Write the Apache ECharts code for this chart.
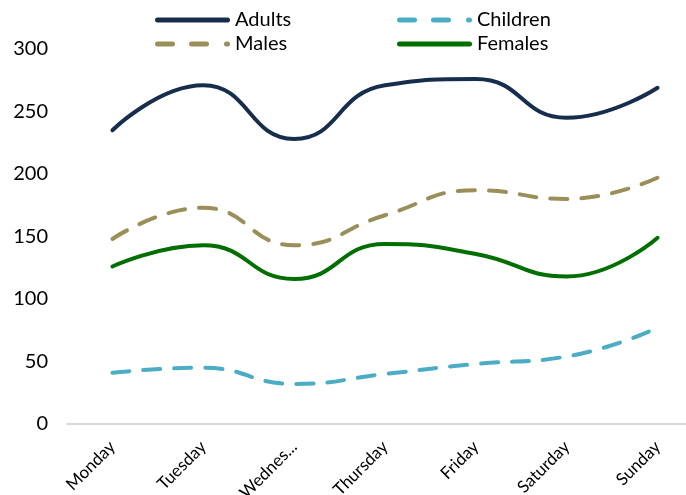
<!DOCTYPE html>
<html>
<head>
<meta charset="utf-8">
<script src="https://cdn.jsdelivr.net/npm/echarts@6/dist/echarts.min.js"></script>
<style>
  html, body { margin: 0; padding: 0; background: #fff; }
  #main { width: 686px; height: 495px; }
</style>
</head>
<body>
<div id="main"></div>
<script>
// data
var days = ['Monday', 'Tuesday', 'Wednesday', 'Thursday', 'Friday', 'Saturday', 'Sunday'];
var adults = [235, 271, 228, 271, 276, 245, 269];
var children = [41, 45, 32, 40, 48, 54, 77];
var males = [148, 173, 143, 167, 187, 180, 197];
var females = [126, 143, 116, 144, 136, 118, 149];
var yTicks = { min: 0, max: 300, interval: 50 };

var font = 'Lato, "Open Sans", sans-serif';

// legend icons like excel: a solid bar, or dash dash dot
function seg(x0, x1) {
    return 'M' + (x0 + 2.5) + ',0H' + (x1 - 2.5) + 'A2.5,2.5 0 0 1 ' + (x1 - 2.5) + ',5H' +
        (x0 + 2.5) + 'A2.5,2.5 0 0 1 ' + (x0 + 2.5) + ',0Z';
}
var solidIcon = 'path://' + seg(0, 75);
var dashIcon = 'path://' + seg(0, 20) + seg(34, 54) + seg(69, 75);

function lineSeries(name, data, color, dashed) {
    return {
        name: name,
        type: 'line',
        data: data,
        smooth: 0.5,
        symbol: 'none',
        lineStyle: {
            color: color,
            width: 4,
            type: dashed ? [17, 14] : 'solid',
            cap: 'round'
        },
        itemStyle: { color: color }
    };
}

var chart = echarts.init(document.getElementById('main'));
var option = {
    animation: false,
    legend: {
        left: 155,
        top: 8,
        padding: 0,
        width: 500,
        itemWidth: 75,
        itemHeight: 5,
        itemGap: 0,
        textStyle: {
            fontFamily: font,
            fontSize: 20,
            color: '#000',
            width: 162,
            lineHeight: 24
        },
        data: [
            { name: 'Adults', icon: solidIcon },
            { name: 'Children', icon: dashIcon },
            { name: 'Males', icon: dashIcon },
            { name: 'Females', icon: solidIcon }
        ]
    },
    grid: { left: 67, right: -17, top: 49, bottom: 71, outerBoundsMode: 'none' },
    xAxis: {
        type: 'category',
        data: days,
        boundaryGap: true,
        axisLine: { lineStyle: { color: '#d9d9d9', width: 2 } },
        axisTick: { show: false },
        axisLabel: {
            rotate: 45,
            interval: 0,
            margin: 20,
            fontFamily: font,
            fontSize: 17,
            color: '#000',
            width: 78,
            overflow: 'truncate',
            ellipsis: '...'
        }
    },
    yAxis: {
        type: 'value',
        min: yTicks.min,
        max: yTicks.max,
        interval: yTicks.interval,
        axisLine: { show: false },
        axisTick: { show: false },
        splitLine: { show: false },
        axisLabel: {
            margin: 19,
            fontFamily: font,
            fontSize: 20,
            color: '#000'
        }
    },
    series: [
        lineSeries('Adults', adults, '#172d4d', false),
        lineSeries('Children', children, '#4bacc6', true),
        lineSeries('Males', males, '#9a8f58', true),
        lineSeries('Females', females, '#006f00', false)
    ]
};
chart.setOption(option);
</script>
</body>
</html>
